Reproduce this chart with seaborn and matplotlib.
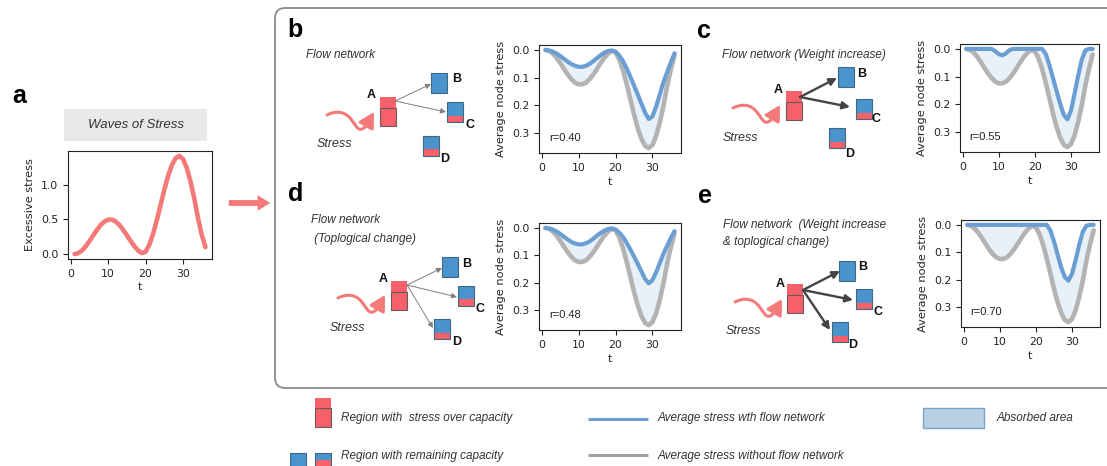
import matplotlib
matplotlib.use("Agg")
import matplotlib.pyplot as plt
import seaborn as sns
from matplotlib.patches import Rectangle, FancyArrowPatch, FancyBboxPatch
from matplotlib.path import Path

# ---- data ----
t = list(range(1, 37))

# panel a: incoming waves of stress
wave = [0.0, 0.014, 0.052, 0.113, 0.189, 0.27, 0.35, 0.42, 0.47, 0.497, 0.497, 0.47,
        0.42, 0.35, 0.27, 0.189, 0.113, 0.052, 0.014, 0.035, 0.135, 0.292, 0.489, 0.708,
        0.927, 1.124, 1.281, 1.382, 1.416, 1.371, 1.243, 1.046, 0.809, 0.52, 0.28, 0.10]

# panels b-e: average node stress without a flow network (grey curve)
no_flow = [0.0, 0.004, 0.013, 0.028, 0.047, 0.068, 0.088, 0.105, 0.118, 0.124, 0.124, 0.118,
           0.105, 0.088, 0.068, 0.047, 0.028, 0.013, 0.004, 0.009, 0.034, 0.073, 0.122, 0.177,
           0.232, 0.281, 0.32, 0.346, 0.354, 0.343, 0.311, 0.262, 0.202, 0.13, 0.07, 0.02]

# average node stress with the flow network (blue curve), one per panel
flow_b = [0.0, 0.002, 0.006, 0.013, 0.022, 0.032, 0.042, 0.051, 0.057, 0.061, 0.061, 0.057,
          0.05, 0.04, 0.029, 0.019, 0.01, 0.004, 0.002, 0.006, 0.02, 0.04, 0.066, 0.096,
          0.128, 0.16, 0.193, 0.226, 0.249, 0.24, 0.205, 0.16, 0.116, 0.08, 0.045, 0.012]
flow_c = [0, 0, 0, 0, 0, 0, 0, 0, 0.008, 0.019, 0.023, 0.016,
          0.004, 0, 0, 0, 0, 0, 0, 0, 0, 0, 0.018, 0.058,
          0.105, 0.152, 0.198, 0.238, 0.254, 0.222, 0.16, 0.095, 0.038, 0.005, 0, 0]
flow_d = [0.0, 0.002, 0.006, 0.013, 0.022, 0.032, 0.042, 0.051, 0.057, 0.06, 0.06, 0.056,
          0.049, 0.039, 0.028, 0.018, 0.01, 0.004, 0.002, 0.006, 0.017, 0.033, 0.054, 0.078,
          0.104, 0.13, 0.158, 0.186, 0.202, 0.19, 0.162, 0.128, 0.094, 0.065, 0.037, 0.012]
flow_e = [0, 0, 0, 0, 0, 0, 0, 0, 0, 0, 0, 0,
          0, 0, 0, 0, 0, 0, 0, 0, 0, 0, 0, 0.02,
          0.06, 0.108, 0.155, 0.19, 0.203, 0.178, 0.128, 0.072, 0.025, 0.003, 0, 0]

r_labels = ["r=0.40", "r=0.55", "r=0.48", "r=0.70"]

# ---- colours / fonts ----
RED = "#f47a7a"
NODE_RED = "#f8606a"
NODE_BLUE = "#4b93cc"
NODE_EDGE = "#3c6a80"
BLUE = "#6b9fd4"
GREY = "#b3b3b3"
ARIAL = "Liberation Sans"

sns.set_style("ticks")
plt.rcParams["font.family"] = ["DejaVu Sans"]

W, H = 1107, 466
fig = plt.figure(figsize=(W / 100, H / 100), dpi=100)

# overlay axes in pixel units for the drawn diagram parts
ov = fig.add_axes([0, 0, 1, 1])
ov.set_xlim(0, W)
ov.set_ylim(H, 0)
ov.axis("off")


def px_axes(l, t_, r, b):
    return fig.add_axes([l / W, 1 - b / H, (r - l) / W, (b - t_) / H])


def style_axes(ax):
    for s in ax.spines.values():
        s.set_linewidth(0.8)
        s.set_color("#222222")
    ax.tick_params(labelsize=7.8, length=3.5, width=0.8, colors="#222222")
    ax.set_xticks([0, 10, 20, 30])


def txt(x, y, s, size=8.5, style="italic", weight="normal", ha="left", va="baseline", color="#333333"):
    ov.text(x, y, s, fontsize=size, fontstyle=style, fontweight=weight, ha=ha, va=va,
            color=color, family=ARIAL)


def blue_node(x, y, w, h, red_from=None):
    ov.add_patch(Rectangle((x, y), w, h, fc=NODE_BLUE, ec="none"))
    if red_from is not None:
        ov.add_patch(Rectangle((x, red_from), w, y + h - red_from, fc=NODE_RED, ec="none"))
    ov.add_patch(Rectangle((x, y), w, h, fc="none", ec=NODE_EDGE, lw=0.8))


def red_node(x, top, split, bottom, w):
    ov.add_patch(Rectangle((x, top), w, split - top, fc=NODE_RED, ec="none"))
    ov.add_patch(Rectangle((x, split), w, bottom - split, fc=NODE_RED, ec="#6a5a5a", lw=0.8))


def stress_arrow(x0, y0):
    # wavy "stress" arrow: runs right, dips down, then turns up into the node
    rel = [(0, 0), (8, -4), (16, -4), (22, 2), (28, 8), (30, 16), (35, 14),
           (40, 12), (43, 4), (47, -3)]
    verts = [(x0 + dx, y0 + dy) for dx, dy in rel]
    codes = [Path.MOVETO] + [Path.CURVE4] * 9
    ov.add_patch(FancyArrowPatch(path=Path(verts, codes),
                                 arrowstyle="-|>,head_length=0.45,head_width=0.25",
                                 mutation_scale=20, lw=2.2, color=RED))


def link(start, end, thick):
    if thick:
        props = dict(arrowstyle="-|>", color="#444444", lw=1.7, mutation_scale=11)
    else:
        props = dict(arrowstyle="-|>", color="#808080", lw=0.7, mutation_scale=8)
    props.update(shrinkA=0, shrinkB=0)
    ov.annotate("", xy=end, xytext=start, arrowprops=props)


# ---- frame around b-e ----
ov.add_patch(FancyBboxPatch((275, 8), 900, 380, boxstyle="round,pad=0,rounding_size=10",
                            fc="none", ec="#8a8a8a", lw=1.3))

# ---- panel a ----
txt(12, 103, "a", size=18, style="normal", weight="bold", color="black")
ov.add_patch(Rectangle((64, 109), 143, 32, fc="#e9e9e9", ec="none"))
txt(136, 125, "Waves of Stress", size=9.5, ha="center", va="center")

ax_a = px_axes(68, 151, 212, 259)
sns.lineplot(x=t, y=wave, ax=ax_a, color=RED, linewidth=3.3)
style_axes(ax_a)
ax_a.set_yticks([0.0, 0.5, 1.0])
ax_a.set_ylabel("Excessive stress", fontsize=8.2)
ax_a.set_xlabel("t", fontsize=8.2, labelpad=2)

ov.add_patch(FancyArrowPatch((226, 203), (273, 203),
                             arrowstyle="simple,head_width=1.6,head_length=1.3,tail_width=0.6",
                             mutation_scale=7, color=RED, lw=0))

# ---- panels b-e ----
panels = [
    dict(letter="b", lx=287, ly=37, ax=(539, 45, 681, 153), flow=flow_b,
         title=[("Flow network", 306, 58)], stress=(317, 147), arrow=(327, 115),
         A=(380, 97, 108, 126), Alab=(371, 98),
         B=(431, 73), Blab=(457, 82), C=(447, 102, 116), Clab=(470, 128),
         D=(423, 136, 149), Dlab=(445, 162),
         links=[((395, 101), (431, 84)), ((395, 101), (446, 112))], thick=False),
    dict(letter="c", lx=697, ly=38, ax=(960, 44, 1099, 152), flow=flow_c,
         title=[("Flow network (Weight increase)", 722, 58)], stress=(723, 141), arrow=(733, 108),
         A=(786, 91, 102, 120), Alab=(778, 93),
         B=(838, 67), Blab=(862, 77), C=(856, 99, 113), Clab=(876, 122),
         D=(829, 128, 142), Dlab=(850, 157),
         links=[((800, 97), (837, 78)), ((800, 97), (850, 107))], thick=True),
    dict(letter="d", lx=288, ly=201, ax=(539, 223, 681, 330), flow=flow_d,
         title=[("Flow network", 311, 223), (" (Toplogical change)", 311, 242)],
         stress=(330, 331), arrow=(338, 298),
         A=(391, 281, 292, 310), Alab=(383, 282),
         B=(442, 257), Blab=(467, 267), C=(458, 286, 299), Clab=(480, 312),
         D=(434, 319, 333), Dlab=(457, 345),
         links=[((407, 285), (442, 268)), ((407, 285), (457, 297)), ((407, 285), (433, 328))],
         thick=False),
    dict(letter="e", lx=698, ly=203, ax=(961, 220, 1100, 327), flow=flow_e,
         title=[("Flow network  (Weight increase", 723, 228), ("& toplogical change)", 723, 245)],
         stress=(726, 334), arrow=(735, 302),
         A=(787, 284, 295, 313), Alab=(780, 287),
         B=(839, 261), Blab=(863, 270), C=(856, 289, 303), Clab=(878, 315),
         D=(832, 322, 336), Dlab=(853, 348),
         links=[((803, 290), (840, 271)), ((803, 290), (853, 300)), ((803, 290), (830, 330))],
         thick=True),
]

for p, r_lab in zip(panels, r_labels):
    txt(p["lx"], p["ly"], p["letter"], size=18, style="normal", weight="bold", color="black")
    for line, x, y in p["title"]:
        txt(x, y, line, size=8.5)
    txt(p["stress"][0], p["stress"][1], "Stress", size=9)
    stress_arrow(*p["arrow"])

    ax0, top, split, bot = p["A"]
    red_node(ax0, top, split, bot, 16)
    blue_node(p["B"][0], p["B"][1], 16, 20)
    blue_node(p["C"][0], p["C"][1], 16, 20, red_from=p["C"][2])
    blue_node(p["D"][0], p["D"][1], 16, 20, red_from=p["D"][2])
    for key in ["A", "B", "C", "D"]:
        lx, ly = p[key + "lab"]
        txt(lx, ly, key, size=9, style="normal", weight="bold", ha="center", color="#111111")
    for s, e in p["links"]:
        link(s, e, p["thick"])

    ax = px_axes(*p["ax"])
    ax.fill_between(t, no_flow, p["flow"], color=BLUE, alpha=0.15, lw=0)
    sns.lineplot(x=t, y=no_flow, ax=ax, color=GREY, linewidth=3.3)
    sns.lineplot(x=t, y=p["flow"], ax=ax, color=BLUE, linewidth=3.0)
    ax.invert_yaxis()
    style_axes(ax)
    ax.set_yticks([0.0, 0.1, 0.2, 0.3])
    ax.set_ylabel("Average node stress", fontsize=8.2)
    ax.set_xlabel("t", fontsize=8.2, labelpad=3)
    ax.text(0.07, 0.14, r_lab, transform=ax.transAxes, fontsize=8, va="center", family=ARIAL,
            color="#222222")

# ---- legend at the bottom ----
red_node(315, 398, 408, 427, 16)
txt(341, 418, "Region with  stress over capacity", size=8.5, va="center")
blue_node(290, 453, 16, 20)
blue_node(315, 453, 16, 20, red_from=460)
txt(341, 456, "Region with remaining capacity", size=8.5, va="center")

ov.plot([588, 648], [419, 419], color=BLUE, lw=2.2, solid_capstyle="butt")
txt(658, 418, "Average stress wth flow network", size=8.5, va="center")
ov.plot([588, 648], [455, 455], color="#a0a0a0", lw=2.2, solid_capstyle="butt")
txt(658, 456, "Average stress without flow network", size=8.5, va="center")

ov.add_patch(Rectangle((923, 408), 61, 20, fc="#b9cfe3", ec="#7aa3cc", lw=1))
txt(997, 418, "Absorbed area", size=8.5, va="center")

fig.savefig("out.png", dpi=100)
